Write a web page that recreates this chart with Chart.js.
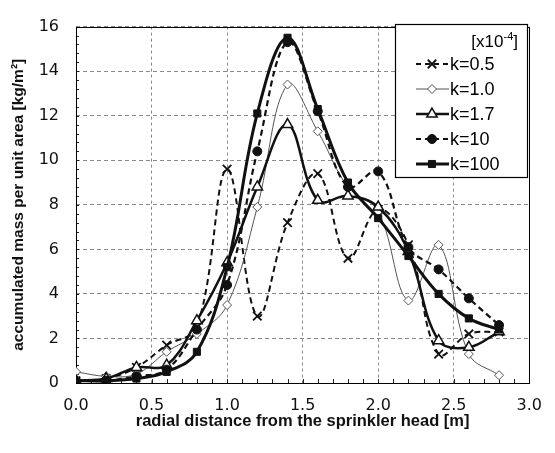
<!DOCTYPE html>
<html>
<head>
<meta charset="utf-8">
<script src="https://cdn.jsdelivr.net/npm/chart.js@4.4.1/dist/chart.umd.min.js"></script>
<style>
  html, body { margin: 0; padding: 0; background: #fff; }
  #wrap { width: 555px; height: 453px; }
</style>
</head>
<body>
<div id="wrap"><canvas id="sprinkler"></canvas></div>
<script>
// radial distance [m]
const distances = [0, 0.2, 0.4, 0.6, 0.8, 1.0, 1.2, 1.4, 1.6, 1.8, 2.0, 2.2, 2.4, 2.6, 2.8];
// accumulated mass per unit area [kg/m2], one list per k value
const k05 = [0.1, 0.2, 0.7, 1.7, 2.5, 9.6, 3.0, 7.2, 9.4, 5.6, 7.8, 6.2, 1.3, 2.2, 2.3];
const k10 = [0.5, 0.3, 0.4, 1.4, 2.2, 3.5, 7.9, 13.4, 11.3, 8.8, 7.7, 3.7, 6.2, 1.3, 0.35];
const k17 = [0.1, 0.2, 0.7, 0.8, 2.8, 5.4, 8.8, 11.6, 8.2, 8.4, 7.9, 5.9, 1.9, 1.6, 2.3];
const k100x = [0.1, 0.1, 0.3, 0.6, 2.4, 4.4, 10.4, 15.3, 12.2, 8.8, 9.5, 6.1, 5.1, 3.8, 2.6];
const k1000 = [0.1, 0.1, 0.2, 0.5, 1.4, 5.2, 12.1, 15.5, 12.3, 9.0, 7.4, 5.7, 4.0, 2.9, 2.4];
const seriesLabels = ['k=0.5', 'k=1.0', 'k=1.7', 'k=10', 'k=100'];
const xTicks = [0, 0.5, 1.0, 1.5, 2.0, 2.5, 3.0];
const yTicks = [0, 2, 4, 6, 8, 10, 12, 14, 16];

const toPoints = (vals) => vals.map((v, i) => ({ x: distances[i], y: v }));

// looks of each series (Excel-ish black & white)
const styles = [
  { borderWidth: 2, borderDash: [6, 4], pointStyle: 'crossRot', pointRadius: 6, pointBorderWidth: 1.8, pointBackgroundColor: '#000', borderColor: '#111' },
  { borderWidth: 1, borderDash: [], pointStyle: 'rectRot', pointRadius: 4.5, pointBorderWidth: 1, pointBackgroundColor: '#fff', borderColor: '#555' },
  { borderWidth: 2.5, borderDash: [], pointStyle: 'triangle', pointRadius: 6, pointBorderWidth: 1.5, pointBackgroundColor: '#fff', borderColor: '#111' },
  { borderWidth: 2.2, borderDash: [6, 4], pointStyle: 'circle', pointRadius: 4.5, pointBorderWidth: 1, pointBackgroundColor: '#111', borderColor: '#111' },
  { borderWidth: 3, borderDash: [], pointStyle: 'rect', pointRadius: 5, pointBorderWidth: 1, pointBackgroundColor: '#111', borderColor: '#111' },
];
const allSeries = [k05, k10, k17, k100x, k1000];

const datasets = allSeries.map((vals, i) => ({
  label: seriesLabels[i],
  data: toPoints(vals),
  borderColor: styles[i].borderColor,
  borderWidth: styles[i].borderWidth,
  borderDash: styles[i].borderDash,
  pointStyle: styles[i].pointStyle,
  pointRadius: styles[i].pointRadius,
  pointBorderWidth: styles[i].pointBorderWidth,
  pointBackgroundColor: styles[i].pointBackgroundColor,
  pointBorderColor: styles[i].borderColor,
  tension: 0.38,
  fill: false,
  order: 5 - i,
}));

const gridStyle = {
  color: '#8a8a8a',
  lineWidth: 1,
  drawTicks: false,
};

// Frame, minor ticks and the legend box
const decorations = {
  id: 'decorations',
  beforeDatasetsDraw(c) {
    const { ctx, chartArea: a } = c;
    const xs = c.scales.x;
    const ys = c.scales.y;
    ctx.save();
    ctx.strokeStyle = '#222';
    ctx.lineWidth = 1;
    ctx.beginPath();
    for (let v = 0.1; v < 3.0; v += 0.1) {
      const px = Math.round(xs.getPixelForValue(v)) + 0.5;
      ctx.moveTo(px, a.bottom);
      ctx.lineTo(px, a.bottom - 4);
    }
    for (let v = 0.4; v < 16; v += 0.4) {
      const py = Math.round(ys.getPixelForValue(v)) + 0.5;
      ctx.moveTo(a.left, py);
      ctx.lineTo(a.left + 3, py);
    }
    ctx.stroke();
    ctx.strokeStyle = '#000';
    ctx.strokeRect(Math.round(a.left) + 0.5, Math.round(a.top) + 0.5,
      Math.round(a.right - a.left), Math.round(a.bottom - a.top));
    ctx.restore();
  },
  afterDraw(c) {
    const { ctx } = c;
    const bx = 395;
    const by = 24;
    const bw = 132;
    const bh = 153;
    ctx.save();
    ctx.fillStyle = '#fff';
    ctx.fillRect(bx, by, bw, bh);
    ctx.strokeStyle = '#000';
    ctx.lineWidth = 1.2;
    ctx.strokeRect(bx + 0.5, by + 0.5, bw, bh);
    // header [x10^-4]
    ctx.fillStyle = '#000';
    ctx.textBaseline = 'middle';
    ctx.font = '17px "Liberation Sans", Arial, sans-serif';
    const endX = 518;
    ctx.textAlign = 'right';
    ctx.fillText(']', endX, 42);
    const wBr = ctx.measureText(']').width;
    ctx.font = '11px "Liberation Sans", Arial, sans-serif';
    ctx.fillText('-4', endX - wBr, 37);
    const wSup = ctx.measureText('-4').width;
    ctx.font = '17px "Liberation Sans", Arial, sans-serif';
    ctx.fillText('[x10', endX - wBr - wSup, 42);
    ctx.textAlign = 'left';
    ctx.font = '18px "Liberation Sans", Arial, sans-serif';
    c.data.datasets.forEach((ds, i) => {
      const y = 64 + i * 25;
      ctx.save();
      ctx.strokeStyle = ds.borderColor;
      ctx.lineWidth = ds.borderWidth;
      ctx.setLineDash(ds.borderDash.length ? [5, 4] : []);
      ctx.beginPath();
      ctx.moveTo(416, y);
      ctx.lineTo(449, y);
      ctx.stroke();
      ctx.restore();
      ctx.save();
      ctx.fillStyle = ds.pointBackgroundColor;
      ctx.strokeStyle = ds.pointBorderColor;
      ctx.lineWidth = ds.pointBorderWidth;
      Chart.helpers.drawPoint(ctx, {
        pointStyle: ds.pointStyle,
        radius: ds.pointRadius,
        borderWidth: ds.pointBorderWidth,
        rotation: 0,
      }, 432, y);
      ctx.restore();
      ctx.fillStyle = '#000';
      ctx.fillText(ds.label, 450, y + 1);
    });
    ctx.restore();
  },
};

const chart = new Chart(document.getElementById('sprinkler'), {
  type: 'line',
  data: { datasets },
  options: {
    responsive: true,
    maintainAspectRatio: false,
    animation: false,
    layout: { padding: { top: 12, right: 20, left: 0, bottom: 0 } },
    scales: {
      x: {
        type: 'linear',
        min: 0,
        max: 3,
        afterBuildTicks: (s) => { s.ticks = xTicks.map((v) => ({ value: v })); },
        afterFit: (s) => { s.height = 70; },
        grid: { ...gridStyle },
        border: { display: false, dash: [3, 3] },
        ticks: {
          padding: 13,
          color: '#111',
          font: { family: '"DejaVu Sans", Verdana, sans-serif', size: 16 },
          callback: (v) => Number(v).toFixed(1),
        },
        title: {
          display: true,
          text: 'radial distance from the sprinkler head [m]',
          color: '#111',
          font: { family: '"Liberation Sans", Arial, sans-serif', size: 16.5, weight: 'bold' },
          padding: { top: 0, bottom: 22 },
        },
      },
      y: {
        min: 0,
        max: 16,
        afterBuildTicks: (s) => { s.ticks = yTicks.map((v) => ({ value: v })); },
        afterFit: (s) => { s.width = 76; },
        grid: { ...gridStyle },
        border: { display: false, dash: [4, 3] },
        ticks: {
          padding: 17,
          color: '#111',
          font: { family: '"DejaVu Sans", Verdana, sans-serif', size: 16 },
        },
        title: {
          display: true,
          text: 'accumulated mass per unit area [kg/m²]',
          color: '#111',
          font: { family: '"Liberation Sans", Arial, sans-serif', size: 15.5, weight: 'bold' },
          padding: { top: 9, bottom: 0 },
        },
      },
    },
    plugins: {
      legend: { display: false },
      tooltip: { enabled: false },
    },
  },
  plugins: [decorations],
});
</script>
</body>
</html>
